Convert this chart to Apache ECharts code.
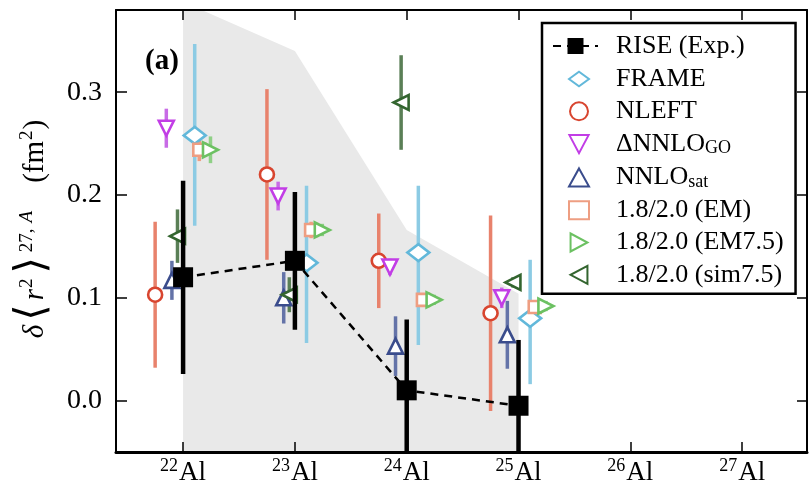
<!DOCTYPE html>
<html><head><meta charset="utf-8">
<script src="https://cdn.jsdelivr.net/npm/echarts@6/dist/echarts.min.js"></script>
<style>html,body{margin:0;padding:0;background:#fff}#c{width:809px;height:489px}</style>
</head><body><div id="c"></div>
<script>
// ---- data ----
const isotopes = [22, 23, 24, 25];
const tickLabels = ['22', '23', '24', '25', '26', '27'];
const bandUpper = [0.388, 0.340, 0.166, 0.104];
const rise = [0.120, 0.136, 0.010, -0.005];
const riseErr = [0.094, 0.067, 0.069, 0.064];
const frame = [0.258, 0.134, 0.144, 0.080];
const frameErrUp = [0.089, 0.075, 0.065, 0.057];
const frameErrDown = [0.088, 0.078, 0.090, 0.064];
const nleft = [0.103, 0.220, 0.136, 0.085];
const nleftErr = [0.071, 0.083, 0.046, 0.095];
const nnloGO = [0.265, 0.199, 0.130, 0.100];
const nnloGOErr = [0.019, 0.014, 0.008, 0.010];
const nnloSat = [0.117, 0.100, 0.053, 0.064];
const nnloSatErr = [0.019, 0.025, 0.029, 0.033];
const em = [0.244, 0.166, 0.098, 0.091];
const emErr = [0.011, 0.008, 0.006, 0.006];
const em75 = [0.244, 0.166, 0.098, 0.092];
const em75Err = [0.013, 0.006, 0.005, 0.005];
const sim75 = [0.160, 0.103, 0.290, 0.115];
const sim75Err = [0.026, 0.017, 0.046, 0.005];

const SERIF = 'Liberation Serif';
const ICON_DIAMOND = 'path://M0,8L11,0L22,8L11,16Z';
const ICON_DOWN = 'path://M0,0L16,0L8,15Z';
const ICON_RIGHT = 'path://M0,0L15,8L0,16Z';
const ICON_LEFT = 'path://M15,0L0,8L15,16Z';
const defs = [
  {name: 'FRAME', vals: frame, up: frameErrUp, down: frameErrDown, off: 0.104, color: '#62b8da', bar: '#8ccbe4', symbol: 'diamond', size: [22, 17], rot: 0, icon: ICON_DIAMOND},
  {name: 'NLEFT', vals: nleft, up: nleftErr, down: nleftErr, off: -0.25, color: '#d8452f', bar: '#e8826c', symbol: 'circle', size: 14, rot: 0, icon: 'circle'},
  {name: 'ΔNNLO_GO', vals: nnloGO, up: nnloGOErr, down: nnloGOErr, off: -0.15, color: '#c23de6', bar: '#c86be6', symbol: 'triangle', size: 15, rot: 180, icon: ICON_DOWN},
  {name: 'NNLO_sat', vals: nnloSat, up: nnloSatErr, down: nnloSatErr, off: -0.10, color: '#3a4c8c', bar: '#6473a8', symbol: 'triangle', size: 15, rot: 0, icon: 'triangle'},
  {name: '1.8/2.0 (EM)', vals: em, up: emErr, down: emErr, off: 0.145, color: '#ee9e82', bar: '#ee9e82', symbol: 'rect', size: 12, rot: 0, icon: 'rect'},
  {name: '1.8/2.0 (EM7.5)', vals: em75, up: em75Err, down: em75Err, off: 0.245, color: '#6cc162', bar: '#8fd086', symbol: 'triangle', size: 15, rot: -90, icon: ICON_RIGHT},
  {name: '1.8/2.0 (sim7.5)', vals: sim75, up: sim75Err, down: sim75Err, off: -0.05, color: '#33652f', bar: '#5a7f56', symbol: 'triangle', size: 15, rot: 90, icon: ICON_LEFT}
];

function errSeries(xs, vals, ups, downs, color, width, z) {
  return {
    type: 'custom', z: z, silent: true,
    data: vals.map((v, i) => [xs[i], v - downs[i], v + ups[i]]),
    renderItem: function (params, api) {
      const cs = params.coordSys;
      const p1 = api.coord([api.value(0), api.value(2)]);
      const p2 = api.coord([api.value(0), api.value(1)]);
      const clamp = y => Math.max(cs.y, Math.min(cs.y + cs.height, y));
      return {type: 'line', shape: {x1: p1[0], y1: clamp(p1[1]), x2: p2[0], y2: clamp(p2[1])},
        style: {stroke: color, lineWidth: width}};
    }
  };
}

const series = [];
series.push({
  type: 'line', name: 'band', silent: true, z: 0,
  data: isotopes.map((x, i) => [x, bandUpper[i]]),
  symbol: 'none', lineStyle: {width: 0}, areaStyle: {color: '#e9e9e9', opacity: 1, origin: 'start'}
});
defs.forEach(d => {
  const xs = isotopes.map(x => x + d.off);
  series.push(errSeries(xs, d.vals, d.up, d.down, d.bar, 3.5, 2));
});
defs.forEach(d => {
  const xs = isotopes.map(x => x + d.off);
  series.push({
    type: 'scatter', name: d.name, z: 3,
    data: d.vals.map((v, i) => [xs[i], v]),
    symbol: d.symbol, symbolSize: d.size, symbolRotate: d.rot, symbolKeepAspect: true,
    itemStyle: {color: '#ffffff', borderColor: d.color, borderWidth: 2.6, opacity: 1}
  });
});
series.push(errSeries(isotopes, rise, riseErr, riseErr, '#000', 4.5, 4));
series.push({
  type: 'line', name: 'RISE (Exp.)', z: 5,
  data: isotopes.map((x, i) => [x, rise[i]]),
  symbol: 'rect', symbolSize: 20,
  itemStyle: {color: '#000'},
  lineStyle: {color: '#000', width: 2.5, type: [8, 6]}
});

const legendText = {
  fontFamily: SERIF, fontSize: 26, color: '#000', padding: [0, 0, 0, 22],
  rich: {
    t: {fontFamily: SERIF, fontSize: 26, lineHeight: 28, color: '#000'},
    sub: {fontFamily: SERIF, fontSize: 18, lineHeight: 18, color: '#000', padding: [9, 0, 0, 0]}
  }
};

const chart = echarts.init(document.getElementById('c'), null, {renderer: 'canvas'});
chart.setOption({
  animation: false,
  backgroundColor: '#fff',
  textStyle: {fontFamily: SERIF},
  grid: {left: 116, top: 10, right: 2, bottom: 37, show: false},
  xAxis: [{
    type: 'value', min: 21.4, max: 27.58,
    axisLine: {show: true, onZero: false, lineStyle: {color: '#000', width: 3}},
    axisTick: {show: true, inside: true, length: 10, customValues: tickLabels.map(Number), lineStyle: {color: '#000', width: 1.5}},
    splitLine: {show: false},
    axisLabel: {
      customValues: tickLabels.map(Number), margin: 5,
      formatter: v => '{sup|' + v + '}{al|Al}',
      rich: {
        sup: {fontFamily: SERIF, fontSize: 18, color: '#000', padding: [0, 1, 14, 0]},
        al: {fontFamily: SERIF, fontSize: 27, color: '#000'}
      }
    }
  }, {
    type: 'value', position: 'top', min: 21.4, max: 27.58,
    axisLine: {show: true, onZero: false, lineStyle: {color: '#000', width: 2}},
    axisTick: {show: true, inside: true, length: 10, customValues: tickLabels.map(Number), lineStyle: {color: '#000', width: 1.5}},
    axisLabel: {show: false}, splitLine: {show: false}
  }],
  yAxis: [{
    type: 'value', min: -0.05, max: 0.38,
    axisLine: {show: true, onZero: false, lineStyle: {color: '#000', width: 2}},
    axisTick: {show: true, inside: true, length: 11, customValues: [0, 0.1, 0.2, 0.3], lineStyle: {color: '#000', width: 1.5}},
    axisLabel: {customValues: [0, 0.1, 0.2, 0.3], margin: 14, formatter: v => v.toFixed(1),
      fontFamily: SERIF, fontSize: 28, color: '#000'},
    splitLine: {show: false},
    name: '{i|δ}{br|⟨}{i|r}{sup|2}{br|⟩}{sup|27,}{supi|A}{gap|}{n|(fm}{sup|2}{n|)}',
    nameLocation: 'middle', nameRotate: 90, nameGap: 58,
    nameTextStyle: {
      padding: [0, 0, 0, 4],
      rich: {
        n: {fontFamily: SERIF, fontSize: 29, color: '#000'},
        i: {fontFamily: SERIF, fontSize: 29, fontStyle: 'italic', color: '#000'},
        br: {fontFamily: 'DejaVu Serif', fontSize: 42, fontWeight: 'lighter', color: '#000', padding: [0, 4, 4, 4]},
        sup: {fontFamily: SERIF, fontSize: 19, color: '#000', padding: [0, 1, 16, 1]},
        supi: {fontFamily: SERIF, fontSize: 19, fontStyle: 'italic', color: '#000', padding: [0, 0, 16, 5]},
        gap: {width: 28}
      },
      fontFamily: SERIF, fontSize: 29, color: '#000'
    }
  }, {
    type: 'value', position: 'right', min: -0.05, max: 0.38,
    axisLine: {show: true, onZero: false, lineStyle: {color: '#000', width: 2}},
    axisTick: {show: true, inside: true, length: 10, customValues: [0, 0.1, 0.2, 0.3], lineStyle: {color: '#000', width: 1.5}},
    axisLabel: {show: false}, splitLine: {show: false}
  }],
  legend: [{
    data: defs.map(d => ({name: d.name, icon: d.icon})),
    orient: 'vertical', left: 542, top: 23, width: 255, height: 274,
    padding: [43, 12, 6, 26], itemGap: 6.3, itemWidth: 20, itemHeight: 18,
    borderColor: '#000', borderWidth: 2.5, backgroundColor: '#fff',
    formatter: function (n) {
      if (n === 'ΔNNLO_GO') return '{t|ΔNNLO}{sub|GO}';
      if (n === 'NNLO_sat') return '{t|NNLO}{sub|sat}';
      return '{t|' + n + '}';
    },
    textStyle: legendText
  }, {
    data: ['RISE (Exp.)'], orient: 'vertical', left: 552, top: 33, z: 10,
    padding: 0, itemWidth: 45, itemHeight: 20,
    textStyle: Object.assign({}, legendText, {padding: [0, 0, 0, 13]})
  }],
  graphic: [{
    type: 'text', left: 145, top: 47,
    style: {text: '(a)', font: 'bold 29px "Liberation Serif"', fill: '#000'}
  }],
  series: series
});
</script></body></html>
